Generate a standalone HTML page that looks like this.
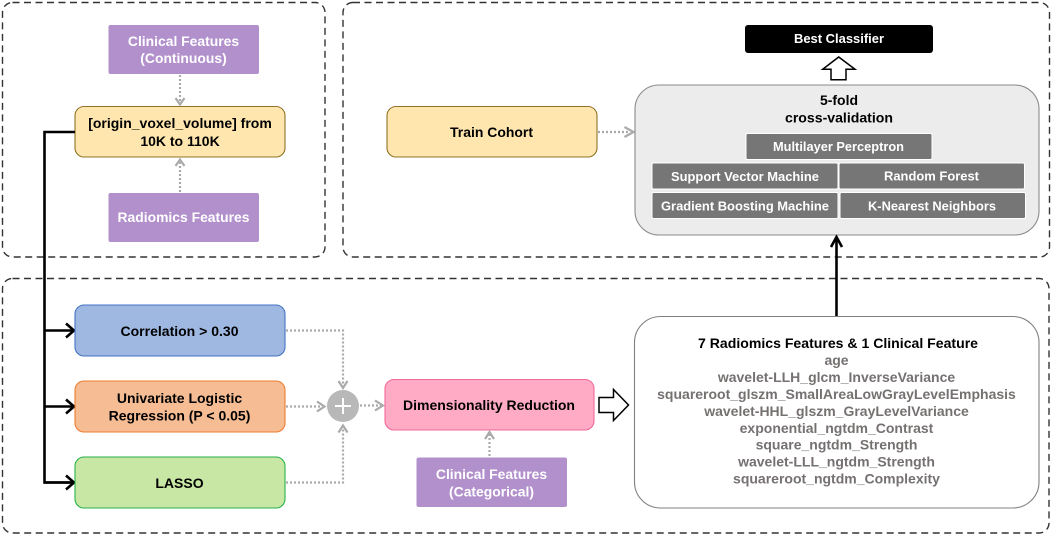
<!DOCTYPE html>
<html><head><meta charset="utf-8"><style>
html,body{margin:0;padding:0;background:#fff}
svg{display:block}
text{font-family:"Liberation Sans",Arial,sans-serif;font-weight:bold;text-anchor:middle}
.d{fill:none;stroke:#aaa;stroke-width:2.2;stroke-dasharray:2 2}
.h{fill:none;stroke:#aaa;stroke-width:2.2}
.k{fill:none;stroke:#000;stroke-width:2.6}
.w{fill:#fff;font-size:13.9px}
.t{fill:#000;font-size:14px}
.g{fill:#767171;font-size:14px}
.c{fill:#fff;font-size:13px}
</style></head><body>
<svg width="1052" height="536" viewBox="0 0 1052 536" xmlns="http://www.w3.org/2000/svg">
<g fill="none" stroke="#333" stroke-width="1.4" stroke-dasharray="7 4.5">
<rect x="2.5" y="2.5" width="322.5" height="254.5" rx="10"/>
<rect x="343" y="2.5" width="706.5" height="254.5" rx="10"/>
<rect x="2.5" y="278.5" width="1046.5" height="254.5" rx="10"/>
</g>

<!-- top-left -->
<rect x="108.500" y="25" width="150.500" height="49" rx="2" fill="#b290cc"/>
<text class="w" x="183.500" y="46">Clinical Features</text>
<text class="w" x="183.500" y="63">(Continuous)</text>
<rect x="75" y="106.500" width="210" height="50.500" rx="9" fill="#ffe6ae" stroke="#8f7428" stroke-width="1.100"/>
<text class="t" x="180" y="128">[origin_voxel_volume] from</text>
<text class="t" x="180" y="146">10K to 110K</text>
<rect x="108.500" y="193" width="150.500" height="49" rx="2" fill="#b290cc"/>
<text class="w" x="183.500" y="222">Radiomics Features</text>
<path class="d" d="M180 75V103"/><path class="h" d="M175.500 98L180 104.500L184.500 98"/>
<path class="d" d="M180 192V161"/><path class="h" d="M175.500 166L180 159.500L184.500 166"/>

<!-- black connector -->
<path fill="none" stroke="#000" stroke-width="2.600" d="M75 132H44.500M44.500 130.700V482.500H74"/>
<path class="k" d="M44 330.500H74M44 406.500H74M44 482.500H74"/>
<path class="k" d="M66 323.500L74 330.500L66 337.500M66 399.500L74 406.500L66 413.500M66 475.500L74 482.500L66 489.500"/>

<!-- top-right -->
<rect x="387" y="106.500" width="210" height="50.500" rx="9" fill="#ffe6ae" stroke="#8f7428" stroke-width="1.100"/>
<text class="t" x="491.500" y="137" textLength="83" lengthAdjust="spacingAndGlyphs">Train Cohort</text>
<path class="d" d="M598 132H630"/><path class="h" d="M624.500 127L633.500 132L624.500 137"/>

<rect x="745" y="25" width="188" height="28" rx="3" fill="#000"/>
<text x="839" y="43" fill="#fff" font-size="13" textLength="90" lengthAdjust="spacingAndGlyphs">Best Classifier</text>
<path fill="#fff" stroke="#000" stroke-width="1.500" d="M838.700 57L822.700 69.300H831V79.700H846V69.300H855Z"/>

<rect x="635" y="85" width="404" height="150" rx="24" fill="#ececec" stroke="#8a8a8a" stroke-width="1.100"/>
<text class="t" x="839" y="105" textLength="38" lengthAdjust="spacingAndGlyphs">5-fold</text>
<text class="t" x="839" y="122.500" textLength="108" lengthAdjust="spacingAndGlyphs">cross-validation</text>
<g fill="#767676" stroke="#fff" stroke-width="1">
<rect x="746" y="133.500" width="186" height="26" rx="1.500"/>
<rect x="652" y="163" width="186" height="26" rx="1.500"/>
<rect x="839" y="163" width="185.500" height="26" rx="1.500"/>
<rect x="652" y="192.500" width="186" height="26" rx="1.500"/>
<rect x="840" y="192.500" width="185.500" height="26" rx="1.500"/>
</g>
<text class="c" x="838.500" y="151" textLength="131" lengthAdjust="spacingAndGlyphs">Multilayer Perceptron</text>
<text class="c" x="745" y="181" textLength="148" lengthAdjust="spacingAndGlyphs">Support Vector Machine</text>
<text class="c" x="931.500" y="180.500" textLength="95" lengthAdjust="spacingAndGlyphs">Random Forest</text>
<text class="c" x="745" y="210.500" textLength="168" lengthAdjust="spacingAndGlyphs">Gradient Boosting Machine</text>
<text class="c" x="932" y="210.500" textLength="128" lengthAdjust="spacingAndGlyphs">K-Nearest Neighbors</text>

<path fill="none" stroke="#000" stroke-width="2.600" d="M836.500 316V238"/>
<path class="k" d="M831 247L836.500 237L842 247"/>

<!-- bottom -->
<rect x="75" y="305" width="210" height="51" rx="9" fill="#9fb8e2" stroke="#4472c4" stroke-width="1.100"/>
<text class="t" x="179.500" y="336" textLength="118" lengthAdjust="spacingAndGlyphs">Correlation &gt; 0.30</text>
<rect x="75" y="381" width="210" height="51" rx="9" fill="#f6bc94" stroke="#ed7d31" stroke-width="1.100"/>
<text class="t" x="179.500" y="403">Univariate Logistic</text>
<text class="t" x="179.500" y="420.500">Regression (P &lt; 0.05)</text>
<rect x="75" y="457" width="210" height="51" rx="9" fill="#c8e7a4" stroke="#27b24a" stroke-width="1.100"/>
<text class="t" x="179.500" y="488">LASSO</text>

<path class="d" d="M286 330.500H343V386"/><path class="h" d="M338.500 381L343 388L347.500 381"/>
<path class="d" d="M286 406.500H322"/><path class="h" d="M317 401.500L324.500 406.500L317 411.500"/>
<path class="d" d="M286 482.500H343V428"/><path class="h" d="M338.500 432.500L343 425.500L347.500 432.500"/>
<circle cx="343" cy="406" r="16" fill="#b8b8b8"/>
<path fill="none" stroke="#fff" stroke-width="2" d="M335 406H351M343 398V414"/>
<path class="d" d="M360 405.500H381"/><path class="h" d="M375 400.500L383 405.500L375 410.500"/>

<rect x="385" y="379.500" width="209" height="50.500" rx="9" fill="#ffabc6" stroke="#f06a99" stroke-width="1.100"/>
<text class="t" x="489" y="410" textLength="172" lengthAdjust="spacingAndGlyphs">Dimensionality Reduction</text>
<rect x="416.500" y="457.500" width="150.500" height="49.500" rx="2" fill="#b290cc"/>
<text class="w" x="491.500" y="479">Clinical Features</text>
<text class="w" x="491.500" y="496.500">(Categorical)</text>
<path class="d" d="M489.500 456V434"/><path class="h" d="M485 439L489.500 432L494 439"/>

<path fill="#fff" stroke="#000" stroke-width="1.500" d="M599 397.500H613.500V389.500L628.500 405L613.500 420.500V412.500H599Z"/>

<rect x="634.500" y="316.500" width="404.500" height="191.500" rx="26" fill="#fff" stroke="#808080" stroke-width="1.100"/>
<text class="t" x="838" y="348" textLength="280" lengthAdjust="spacingAndGlyphs">7 Radiomics Features &amp; 1 Clinical Feature</text>
<text class="g" x="836.500" y="365">age</text>
<text class="g" x="836.500" y="382">wavelet-LLH_glcm_InverseVariance</text>
<text class="g" x="836.500" y="399">squareroot_glszm_SmallAreaLowGrayLevelEmphasis</text>
<text class="g" x="836.500" y="416">wavelet-HHL_glszm_GrayLevelVariance</text>
<text class="g" x="836.500" y="433">exponential_ngtdm_Contrast</text>
<text class="g" x="836.500" y="449.500">square_ngtdm_Strength</text>
<text class="g" x="836.500" y="466.500">wavelet-LLL_ngtdm_Strength</text>
<text class="g" x="836.500" y="483.500">squareroot_ngtdm_Complexity</text>
</svg>
</body></html>
